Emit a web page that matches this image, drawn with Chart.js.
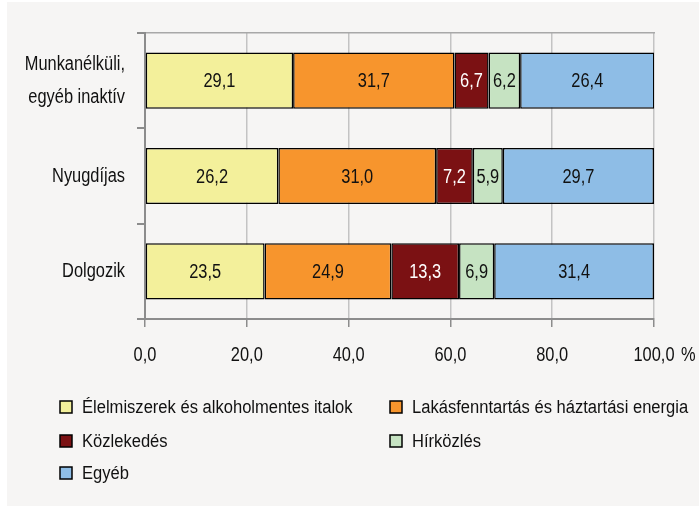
<!DOCTYPE html>
<html>
<head>
<meta charset="utf-8">
<script src="https://cdn.jsdelivr.net/npm/chart.js@4.4.1/dist/chart.umd.min.js"></script>
<style>
  body { margin: 0; background: #ffffff; width: 699px; height: 506px; overflow: hidden; }
  #box { position: absolute; left: 7px; top: 2px; width: 692px; height: 504px; background: #f6f5f4; }
</style>
</head>
<body>
<div id="box">
  <canvas id="expenseChart" width="692" height="504"></canvas>
</div>
<script>
const categories = [['Munkanélküli,', 'egyéb inaktív'], 'Nyugdíjas', 'Dolgozik']
const seriesNames = ['Élelmiszerek és alkoholmentes italok', 'Lakásfenntartás és háztartási energia', 'Közlekedés', 'Hírközlés', 'Egyéb']
const elelmiszer = [29.1, 26.2, 23.5]
const lakas = [31.7, 31.0, 24.9]
const kozlekedes = [6.7, 7.2, 13.3]
const hirkozles = [6.2, 5.9, 6.9]
const egyeb = [26.4, 29.7, 31.4]
const xTicks = [0, 20, 40, 60, 80, 100]

const colors = ['#f3f09b', '#f7952d', '#7b1113', '#c6e3c2', '#8ebde6']
const labelColors = ['#111', '#111', '#fff', '#111', '#111']
const FONT = "20px 'Liberation Sans', Arial, sans-serif"
const LEGEND_FONT = "18px 'Liberation Sans', Arial, sans-serif"
const NARROW = 0.82

const fmt = v => v.toFixed(1).replace('.', ',')

// no narrow font installed, so squeeze the text horizontally
const narrowText = (ctx, text, x, y, align, color, font = FONT, sx = NARROW) => {
    ctx.save()
    ctx.translate(x, y)
    ctx.scale(sx, 1)
    ctx.font = font
    ctx.textAlign = align
    ctx.textBaseline = 'middle'
    ctx.fillStyle = color
    ctx.fillText(text, 0, 0)
    ctx.restore()
}

const allValues = [elelmiszer, lakas, kozlekedes, hirkozles, egyeb]

const datasets = allValues.map((vals, i) => ({
    label: seriesNames[i],
    data: vals,
    backgroundColor: colors[i],
    borderColor: '#000',
    borderWidth: 1.5,
    borderSkipped: false
}))

const barLabels = {
    id: 'barLabels',
    afterDatasetsDraw(chart) {
        chart.data.datasets.forEach((ds, i) => {
            chart.getDatasetMeta(i).data.forEach((bar, j) => {
                const p = bar.getCenterPoint()
                narrowText(chart.ctx, fmt(ds.data[j]), p.x, p.y + 1, 'center', labelColors[i])
            })
        })
    }
}

// tick labels drawn at the scales' own tick positions
const axisLabels = {
    id: 'axisLabels',
    afterDraw(chart) {
        const ctx = chart.ctx
        const sx = chart.scales.x
        const sy = chart.scales.y
        sx.ticks.forEach((t, i) => {
            narrowText(ctx, fmt(t.value), sx.getPixelForTick(i), 353, 'center', '#111')
        })
        narrowText(ctx, '%', sx.getPixelForValue(100) + 27, 353, 'left', '#111')
        sy.ticks.forEach((t, i) => {
            const lab = chart.data.labels[i]
            const lines = Array.isArray(lab) ? lab : [lab]
            const y0 = sy.getPixelForTick(i) - (lines.length - 1) * 16.5
            lines.forEach((ln, k) => narrowText(ctx, ln, sy.right - 20, y0 + k * 33, 'right', '#111'))
        })
    }
}

// two-column legend under the plot
const legendPos = [[53, 405], [383, 405], [53, 439], [383, 439], [53, 471]]
const narrowLegend = {
    id: 'narrowLegend',
    afterDraw(chart) {
        const ctx = chart.ctx
        chart.data.datasets.forEach((ds, i) => {
            const [x, y] = legendPos[i]
            ctx.save()
            ctx.fillStyle = ds.backgroundColor
            ctx.fillRect(x, y - 6, 12, 12)
            ctx.strokeStyle = '#000'
            ctx.lineWidth = 1.5
            ctx.strokeRect(x, y - 6, 12, 12)
            ctx.restore()
            narrowText(ctx, ds.label, x + 22, y + 1, 'left', '#111', LEGEND_FONT, 0.92)
        })
    }
}

new Chart('expenseChart', {
    type: 'bar',
    data: { labels: categories, datasets },
    options: {
        indexAxis: 'y',
        responsive: false,
        animation: false,
        layout: { padding: { top: 31, right: 45, left: 0, bottom: 0 } },
        datasets: { bar: { categoryPercentage: 1, barPercentage: 0.59 } },
        plugins: {
            legend: { display: false },
            tooltip: { enabled: false }
        },
        scales: {
            x: {
                stacked: true,
                min: 0,
                max: 100,
                afterBuildTicks: s => { s.ticks = xTicks.map(v => ({ value: v })) },
                afterFit: s => { s.height = 187 },
                ticks: { display: false },
                grid: { color: '#c3c3c3', tickColor: '#8c8c8c', tickLength: 8, lineWidth: 1.5 },
                border: { color: '#8c8c8c', width: 2 }
            },
            x2: {
                position: 'top',
                min: 0,
                max: 100,
                ticks: { display: false },
                grid: { display: false, drawTicks: false },
                border: { color: '#a8a8a8', width: 1.5 }
            },
            y: {
                stacked: true,
                afterFit: s => { s.width = 138 },
                ticks: { display: false },
                grid: { offset: true, drawOnChartArea: false, tickColor: '#8c8c8c', tickLength: 8, lineWidth: 2 },
                border: { color: '#8c8c8c', width: 2 }
            }
        }
    },
    plugins: [barLabels, axisLabels, narrowLegend]
})
</script>
</body>
</html>
